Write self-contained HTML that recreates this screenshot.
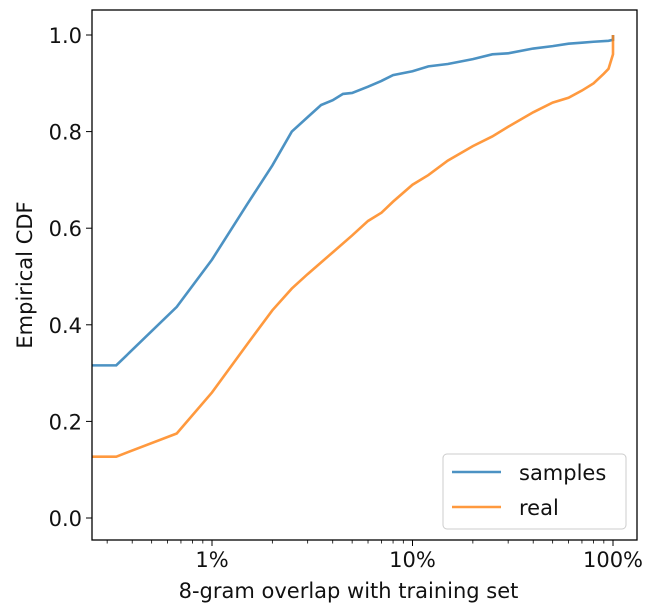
<!DOCTYPE html>
<html><head><style>body{margin:0;background:#fff}svg{display:block;font-family:"DejaVu Sans","Liberation Sans",sans-serif}</style></head>
<body>
<svg id="c" width="651" height="612"></svg>
<script>
const xTicks=[1,10,100];
const xTickLabels=["1%","10%","100%"];
const yTicks=[0,0.2,0.4,0.6,0.8,1.0];
const yTickLabels=["0.0","0.2","0.4","0.6","0.8","1.0"];
const samplesX=[0.25,0.333,0.667,1,1.5,2,2.5,3,3.5,4,4.5,5,6,7,8,10,12,15,20,25,30,40,50,60,70,80,95,100,100];
const samplesY=[0.316,0.316,0.437,0.535,0.65,0.73,0.80,0.83,0.855,0.865,0.878,0.88,0.893,0.905,0.917,0.925,0.935,0.94,0.95,0.96,0.962,0.972,0.977,0.982,0.984,0.986,0.988,0.99,1.0];
const realX=[0.25,0.333,0.667,1,1.5,2,2.5,3,4,5,6,7,8,10,12,15,20,25,30,40,50,60,70,80,90,95,100,100];
const realY=[0.127,0.127,0.175,0.26,0.36,0.43,0.475,0.505,0.55,0.585,0.615,0.632,0.655,0.69,0.71,0.74,0.77,0.79,0.81,0.84,0.86,0.87,0.885,0.9,0.92,0.93,0.96,1.0];
const L=92,R=637,T=10,B=540;
const X=v=>212+Math.log10(v)*200.5;
const Y=v=>518-v*483;
const FS=21;
const svg=document.getElementById('c');
const NS='http://www.w3.org/2000/svg';
function mk(t,a,p){const e=document.createElementNS(NS,t);for(const k in a)e.setAttribute(k,a[k]);(p||svg).appendChild(e);return e;}
for(let d=-3;d<=2;d++)for(let m=2;m<=9;m++){const v=m*Math.pow(10,d);const x=X(v);if(x<L||x>R)continue;
const t=mk('line',{x1:x,x2:x,y1:B,y2:B+3.5,stroke:'#000','stroke-width':0.8});

}
xTicks.forEach((v,i)=>{const x=X(v);
const t=mk('line',{x1:x,x2:x,y1:B,y2:B+6,stroke:'#000','stroke-width':1});


const l=mk('text',{x:x,y:B+27,'text-anchor':'middle','font-size':FS,fill:'#111'});l.textContent=xTickLabels[i];

});
yTicks.forEach((v,i)=>{const y=Y(v);
const t=mk('line',{x1:L-6,x2:L,y1:y,y2:y,stroke:'#000','stroke-width':1});


const l=mk('text',{x:L-10,y:y+8,'text-anchor':'end','font-size':FS,fill:'#111'});l.textContent=yTickLabels[i];

});
function series(xs,ys,c,name){const cp=mk('clipPath',{id:'cp'+name});mk('rect',{x:L,y:T,width:R-L,height:B-T},cp);
const p=mk('polyline',{points:xs.map((x,i)=>Math.max(X(x),L)+','+Y(ys[i])).join(' '),fill:'none',stroke:c,'stroke-width':2.6,'stroke-opacity':0.8,'clip-path':'url(#cp'+name+')'});

}
series(samplesX,samplesY,'#1f77b4','samples');
series(realX,realY,'#ff7f0e','real');
const f=mk('rect',{x:L,y:T,width:R-L,height:B-T,fill:'none',stroke:'#000','stroke-width':1.3});


const xt=mk('text',{x:(L+R)/2-16,y:598,'text-anchor':'middle','font-size':FS,fill:'#111'});xt.textContent='8-gram overlap with training set';


const yt=mk('text',{x:0,y:0,'text-anchor':'middle','font-size':FS,fill:'#111',transform:'translate(32,'+((T+B)/2)+') rotate(-90)'});yt.textContent='Empirical CDF';


const g=mk('g',{});


mk('rect',{x:443,y:454,width:183,height:75,rx:4,fill:'#fff','fill-opacity':0.8,stroke:'#ccc','stroke-width':1},g);
[['samples','#1f77b4',472],['real','#ff7f0e',507]].forEach(([n,c,y])=>{
const e=mk('g',{},g);


mk('line',{x1:452,x2:501,y1:y,y2:y,stroke:c,'stroke-width':2.6,'stroke-opacity':0.8},e);
const t=mk('text',{x:519,y:y+8,'font-size':FS,fill:'#111'},e);t.textContent=n;});
</script>
</body></html>
